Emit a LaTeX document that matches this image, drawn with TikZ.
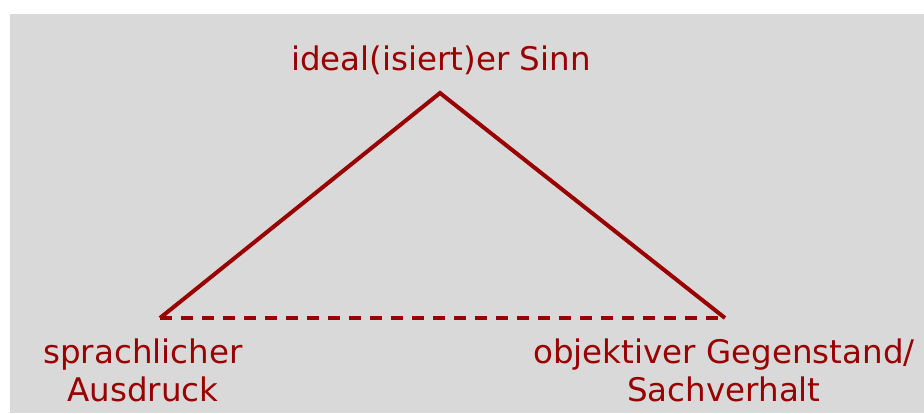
\documentclass[tikz,border=0pt]{standalone}
\usepackage{fontspec}
\setmainfont{DejaVu Sans}
\usepackage{xcolor}
\usetikzlibrary{positioning}
\definecolor{sinnred}{HTML}{990000}
\definecolor{panel}{HTML}{D9D9D9}

\begin{document}
\begin{tikzpicture}[
  x=1pt, y=-1pt,
  lbl/.style={text=sinnred, font=\fontsize{32.5}{38}\selectfont, align=center, inner sep=0pt},
  side/.style={draw=sinnred, line width=4pt},
  link/.style={draw=sinnred, line width=4pt, dash pattern=on 12pt off 9pt}
]
\useasboundingbox (0,0) rectangle (924,413);
\fill[panel] (10,14) rectangle (924,413);

\coordinate (sinn) at (440,93);
\coordinate (ausdruck) at (160,318);
\coordinate (gegenstand) at (725,318);

\node[lbl] (tsinn) at (441,60) {ideal(isiert)er Sinn};
\node[lbl] (tausdruck) at (143,370) {sprachlicher\\Ausdruck};
\node[lbl] (tgegenstand) at (724,370) {objektiver Gegenstand/\\Sachverhalt};

\draw[side] (ausdruck) -- (sinn) -- (gegenstand);
\draw[link] (ausdruck) -- (gegenstand);
\end{tikzpicture}
\end{document}
